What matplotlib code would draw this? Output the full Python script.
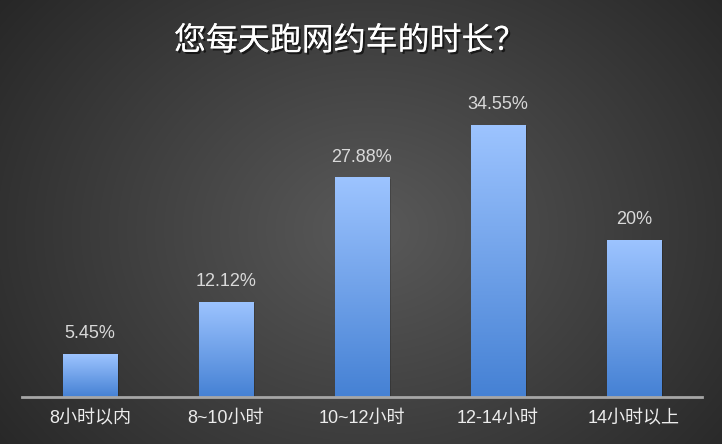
import numpy as np
import matplotlib.pyplot as plt
import matplotlib.patheffects as pe
from matplotlib.colors import LinearSegmentedColormap

# ============================
# Data
# ============================
categories = ['8小时以内', '8~10小时', '10~12小时', '12-14小时', '14小时以上']
values = [5.45, 12.12, 27.88, 34.55, 20.0]
value_labels = ['5.45%', '12.12%', '27.88%', '34.55%', '20%']
title = '您每天跑网约车的时长？'

plt.rcParams['font.family'] = ['Liberation Sans', 'Noto Sans CJK SC', 'DejaVu Sans']

fig = plt.figure(figsize=(7.22, 4.44), dpi=100)

# --- Radial gradient background ---
bg = fig.add_axes([0, 0, 1, 1])
bg.set_axis_off()
yy, xx = np.mgrid[0:444, 0:722]
r = np.sqrt(((xx - 370) / 520.0) ** 2 + ((yy - 230) / 420.0) ** 2)
shade = np.clip(0.35 - 0.22 * r, 0.12, 0.37)
bg.imshow(np.dstack([shade, shade, shade]), aspect='auto', extent=[0, 1, 0, 1])
bg.set_xlim(0, 1)
bg.set_ylim(0, 1)

# --- Main axes ---
ax = fig.add_axes([22 / 722, 47 / 444, 680 / 722, 337 / 444])
ax.patch.set_alpha(0)
x = np.arange(len(categories))
bars = ax.bar(x, values, width=0.4, color='none', edgecolor='none', zorder=3)

cmap = LinearSegmentedColormap.from_list('bar', ['#4581d4', '#9dc4ff'])
grad = np.linspace(0, 1, 256).reshape(-1, 1)
for b in bars:
    x0, w, h = b.get_x(), b.get_width(), b.get_height()
    # soft shadow
    ax.bar(x0 + w / 2 + 0.015, h, width=w, bottom=-0.15, color='black',
           alpha=0.18, zorder=2)
    im = ax.imshow(grad, cmap=cmap, origin='lower', aspect='auto',
                   extent=[x0, x0 + w, 0, h], zorder=3)
    im.set_clip_path(b)

for xi, v, lab in zip(x, values, value_labels):
    ax.text(xi, v + 1.5, lab, ha='center', va='bottom', fontsize=13,
            color='#d9d9d9')

ax.set_xlim(-0.5, len(categories) - 0.5)
ax.set_ylim(0, 42.8)
ax.set_xticks(x)
ax.set_xticklabels(categories, fontsize=13, color='#ececec')
ax.tick_params(axis='x', length=0, pad=9)
ax.set_yticks([])
for s in ['top', 'right', 'left']:
    ax.spines[s].set_visible(False)
ax.spines['bottom'].set_color('#a6a6a6')
ax.spines['bottom'].set_linewidth(2)
ax.spines['bottom'].set_zorder(4)

fig.text(350 / 722, 1 - 41 / 444, title, ha='center', va='center',
         fontsize=23, color='white', family=['Noto Sans CJK SC', 'DejaVu Sans'],
         path_effects=[pe.withSimplePatchShadow(offset=(1.5, -1.5), alpha=0.6,
                                                shadow_rgbFace='black'),
                       pe.Normal()])

fig.savefig('out.png', dpi=100)
